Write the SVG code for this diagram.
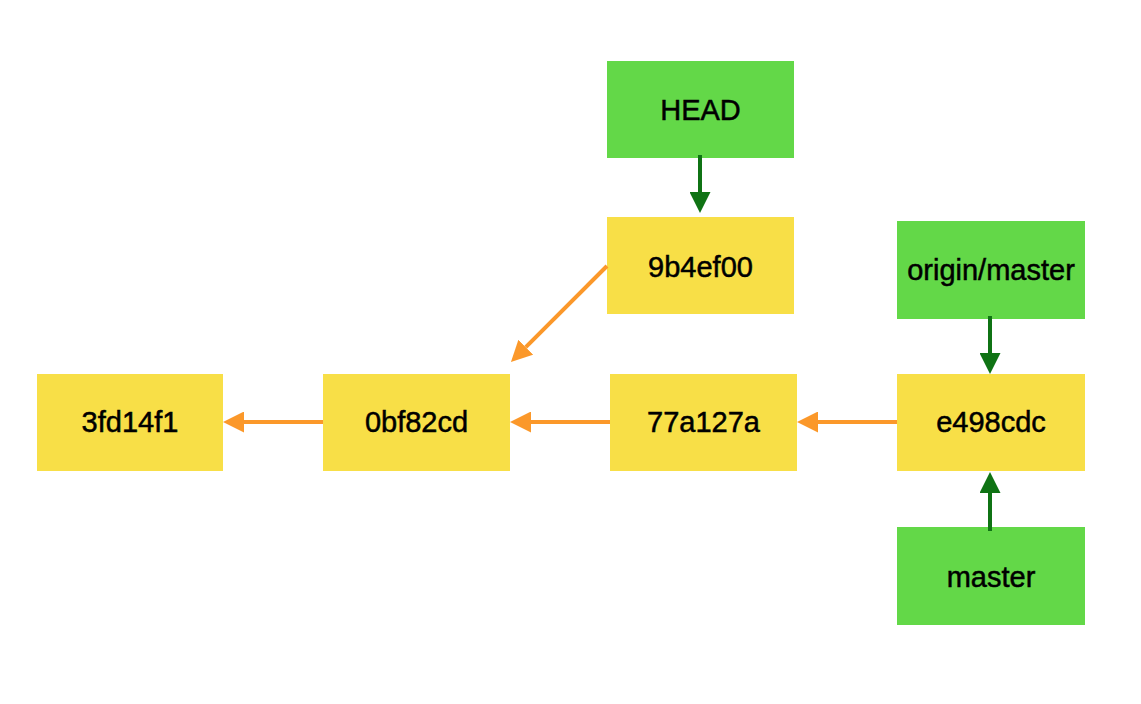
<svg xmlns="http://www.w3.org/2000/svg" width="1141" height="704" viewBox="0 0 1141 704">
<style>
.commit{fill:#F8DF47}
.ref{fill:#63D848}
.lbl{font-family:"Liberation Sans",Arial,sans-serif;font-size:29px;fill:#000;stroke:#000;stroke-width:0.5px;text-anchor:middle}
.oa{stroke:#FB982A;stroke-width:4;fill:none;marker-end:url(#ah-o)}
.ga{stroke:#0F7314;stroke-width:4;fill:none;marker-end:url(#ah-g)}
</style>
<defs>
<marker id="ah-o" markerUnits="userSpaceOnUse" markerWidth="21" markerHeight="21" refX="0" refY="10.5" orient="auto" viewBox="0 0 21 21"><path d="M0,0 L21,10.5 L0,21 z" fill="#FB982A"/></marker>
<marker id="ah-g" markerUnits="userSpaceOnUse" markerWidth="21" markerHeight="21" refX="0" refY="10.5" orient="auto" viewBox="0 0 21 21"><path d="M0,0 L21,10.5 L0,21 z" fill="#0F7314"/></marker>
</defs>
<rect width="1141" height="704" fill="#fff"/>
<g id="head"><rect class="ref" x="607" y="61" width="187" height="97"/><text class="lbl" x="700.5" y="120">HEAD</text></g>
<g id="c9b4ef00"><rect class="commit" x="607" y="217" width="187" height="97"/><text class="lbl" x="700.5" y="277">9b4ef00</text></g>
<g id="origin-master"><rect class="ref" x="897" y="221" width="188" height="98"/><text class="lbl" x="991" y="280">origin/master</text></g>
<g id="c3fd14f1"><rect class="commit" x="37" y="374" width="186" height="97"/><text class="lbl" x="130" y="432">3fd14f1</text></g>
<g id="c0bf82cd"><rect class="commit" x="323" y="374" width="187" height="97"/><text class="lbl" x="416.5" y="432">0bf82cd</text></g>
<g id="c77a127a"><rect class="commit" x="610" y="374" width="187" height="97"/><text class="lbl" x="703.5" y="432">77a127a</text></g>
<g id="ce498cdc"><rect class="commit" x="897" y="374" width="188" height="97"/><text class="lbl" x="991" y="432">e498cdc</text></g>
<g id="master"><rect class="ref" x="897" y="527" width="188" height="98"/><text class="lbl" x="991" y="587">master</text></g>
<g id="connectors">
<path class="ga" d="M700,155 L700,192"/>
<path class="oa" d="M607,266 L525.8,347.2"/>
<path class="oa" d="M323,422 L244,422"/>
<path class="oa" d="M610,422 L531,422"/>
<path class="oa" d="M897,422 L818,422"/>
<path class="ga" d="M990,316 L990,353"/>
<path class="ga" d="M990,531 L990,493"/>
</g>
</svg>
